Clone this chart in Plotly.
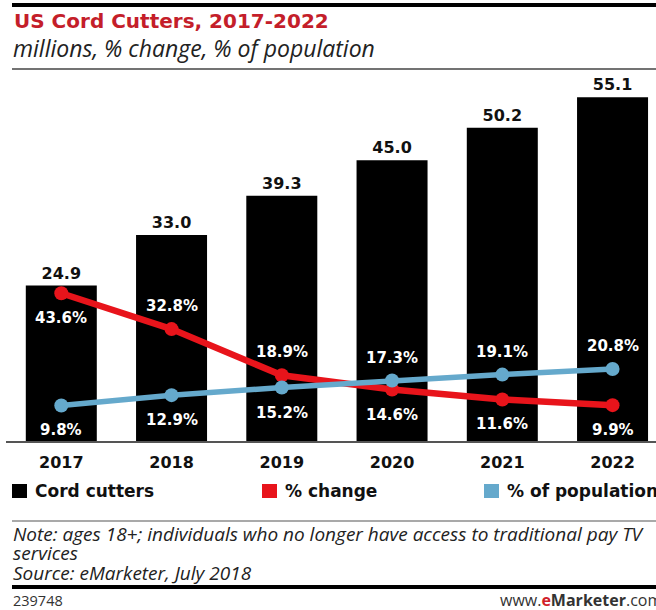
import plotly.graph_objects as go

# Data
years = ["2017", "2018", "2019", "2020", "2021", "2022"]
cord_cutters = [24.9, 33.0, 39.3, 45.0, 50.2, 55.1]
pct_change = [43.6, 32.8, 18.9, 14.6, 11.6, 9.9]
pct_population = [9.8, 12.9, 15.2, 17.3, 19.1, 20.8]

# label placement for the line series: +1 above point, -1 below
change_side = [-1, 1, 1, -1, -1, -1]
population_side = [-1, -1, -1, 1, 1, 1]

W, H = 656, 610
PX0, PX1 = 6, 656      # plot area, pixels
PY0, PY1 = 80, 441

RED = "#e8141b"
BLUE = "#65a9cc"
TITLE_RED = "#c41e2a"
BOLD_FONT = "DejaVu Sans"
ITALIC_FONT = "Open Sans"


def px(x):
    return (x - PX0) / (PX1 - PX0)


def py(y):
    return (PY1 - y) / (PY1 - PY0)


xi = list(range(len(years)))
step = 110.25
x_lo = -(61.3 - PX0) / step
x_hi = x_lo + (PX1 - PX0) / step

fig = go.Figure()

fig.add_trace(go.Bar(
    x=xi, y=cord_cutters, width=0.644,
    marker=dict(color="#000000", line=dict(width=0)),
    text=[f"{v:.1f}" for v in cord_cutters], textposition="outside",
    textfont=dict(family=BOLD_FONT, size=16, color="#111111", weight="bold"),
    cliponaxis=False, name="Cord cutters", hoverinfo="skip",
))

fig.add_trace(go.Scatter(
    x=xi, y=pct_change, yaxis="y2", mode="lines+markers",
    line=dict(color=RED, width=6.5), marker=dict(color=RED, size=14),
    name="% change", hoverinfo="skip",
))
fig.add_trace(go.Scatter(
    x=xi, y=pct_population, yaxis="y2", mode="lines+markers",
    line=dict(color=BLUE, width=5.5), marker=dict(color=BLUE, size=14),
    name="% of population", hoverinfo="skip",
))

annotations = []
for vals, sides in ((pct_change, change_side), (pct_population, population_side)):
    for i, (v, s) in enumerate(zip(vals, sides)):
        annotations.append(dict(
            x=i, y=v, xref="x", yref="y2", text=f"{v:.1f}%", showarrow=False,
            yshift=23 * s if s > 0 else -25,
            font=dict(family=BOLD_FONT, size=15, color="#ffffff", weight="bold"),
        ))


def text_at(x, y, text, size, family=ITALIC_FONT, color="#222222", anchor="left"):
    return dict(x=px(x), y=py(y), xref="paper", yref="paper", xanchor=anchor,
                yanchor="middle", text=text, showarrow=False,
                font=dict(family=family, size=size, color=color))


# Title block
annotations += [
    text_at(12, 21, "<b>US Cord Cutters, 2017-2022</b>", 20, BOLD_FONT, TITLE_RED),
    text_at(11, 48, "<i>millions, % change, % of population</i>", 23),
]

# Legend
legend_items = [("Cord cutters", "#000000", 12), ("% change", RED, 262), ("% of population", BLUE, 484)]
shapes = []
for label, color, lx in legend_items:
    shapes.append(dict(type="rect", xref="paper", yref="paper",
                       x0=px(lx), x1=px(lx + 15), y0=py(498), y1=py(484),
                       fillcolor=color, line=dict(width=0)))
    annotations.append(dict(x=px(lx + 21), y=py(491), xref="paper", yref="paper",
                            xanchor="left", yanchor="middle", text=label, showarrow=False,
                            font=dict(family=BOLD_FONT, size=17, color="#111111", weight="bold")))

# Footer
annotations += [
    text_at(11, 534, "<i>Note: ages 18+; individuals who no longer have access to traditional pay TV</i>", 19),
    text_at(11, 553, "<i>services</i>", 19),
    text_at(11, 573, "<i>Source: eMarketer, July 2018</i>", 19),
    text_at(11, 600, "239748", 14.5, color="#333333"),
    text_at(664, 600, "www.<b><span style='color:#d0202a'>e</span>Marketer</b>.com", 16,
            color="#333333", anchor="right"),
]

# Rules
shapes += [
    dict(type="line", xref="paper", yref="paper", x0=px(12), x1=px(660), y0=py(5), y1=py(5),
         line=dict(color="#000000", width=4)),
    dict(type="line", xref="paper", yref="paper", x0=px(12), x1=px(660), y0=py(69), y1=py(69),
         line=dict(color="#444444", width=1.5)),
    dict(type="line", xref="paper", yref="paper", x0=px(12), x1=px(660), y0=py(521), y1=py(521),
         line=dict(color="#555555", width=1.2)),
    dict(type="line", xref="paper", yref="paper", x0=px(12), x1=px(660), y0=py(587), y1=py(587),
         line=dict(color="#000000", width=4)),
]

fig.update_layout(
    width=W, height=H,
    margin=dict(l=PX0, r=W - PX1, t=PY0, b=H - PY1),
    paper_bgcolor="#ffffff", plot_bgcolor="#ffffff",
    showlegend=False,
    xaxis=dict(range=[x_lo, x_hi], tickmode="array", tickvals=xi, ticktext=years,
               showgrid=False, zeroline=False, showline=True, linecolor="#555555", linewidth=1.5,
               ticks="outside", ticklen=6, tickcolor="rgba(0,0,0,0)",
               tickfont=dict(family=BOLD_FONT, size=16, color="#111111", weight="bold"),
               fixedrange=True),
    yaxis=dict(range=[0, (PY1 - PY0) / 6.24], visible=False, fixedrange=True),
    yaxis2=dict(range=[-3 / 3.32, -3 / 3.32 + (PY1 - PY0) / 3.32], overlaying="y",
                visible=False, fixedrange=True),
    annotations=annotations,
    shapes=shapes,
)

fig.write_html("out.html")
